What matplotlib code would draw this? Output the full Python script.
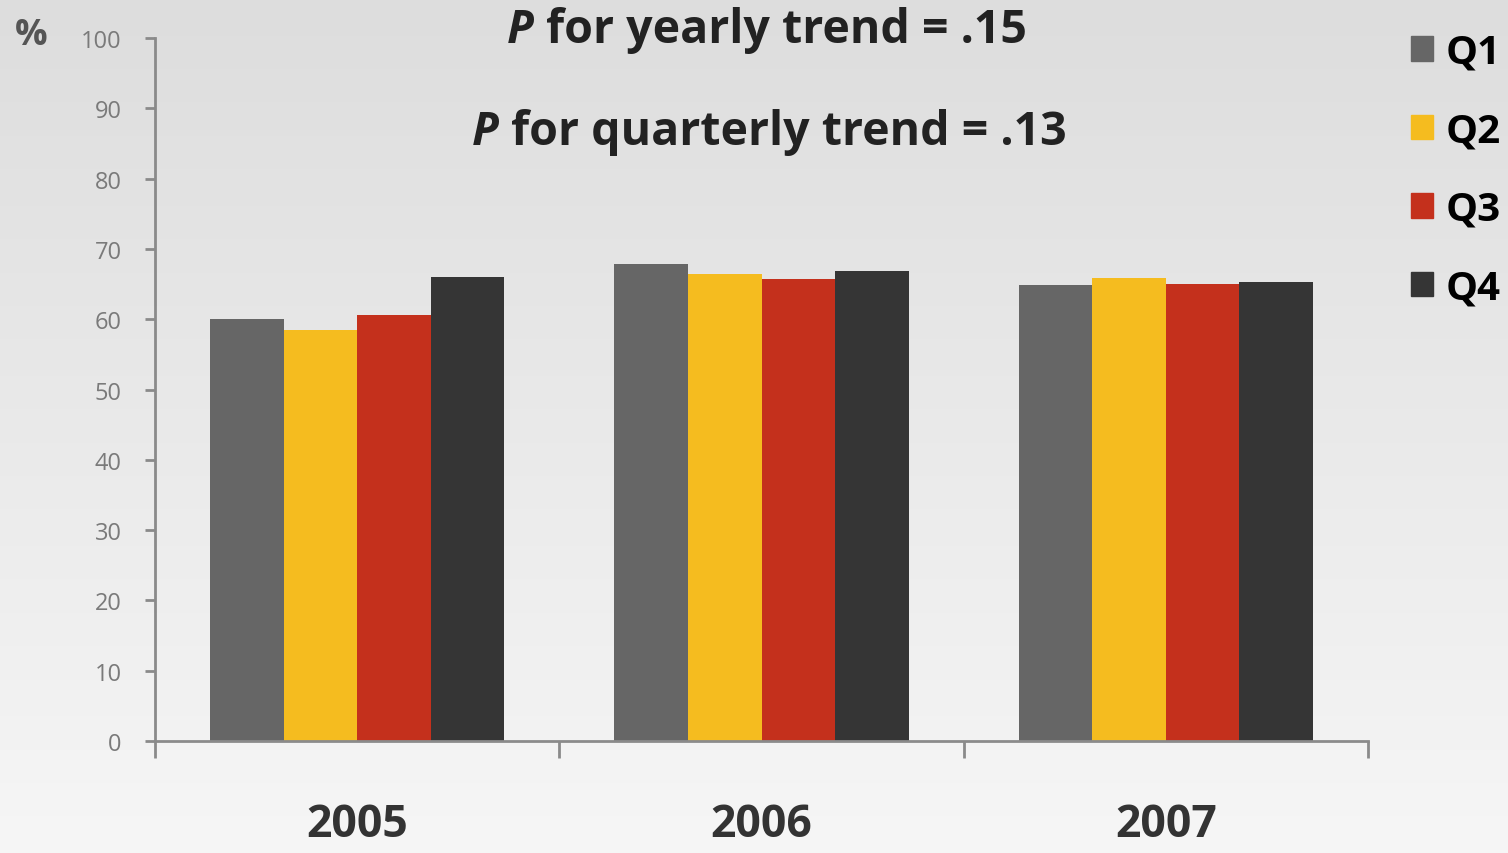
import numpy as np
import matplotlib
matplotlib.use('Agg')
import matplotlib.pyplot as plt
from matplotlib.patches import Patch

plt.rcParams['font.family'] = ['Open Sans', 'DejaVu Sans']

years = ['2005', '2006', '2007']
quarters = ['Q1', 'Q2', 'Q3', 'Q4']
q1 = [60.0, 67.9, 64.9]
q2 = [58.4, 66.4, 65.9]
q3 = [60.6, 65.7, 65.0]
q4 = [66.0, 66.8, 65.3]
colList = ['#666666', '#f5bc1f', '#c4301c', '#353535']
yticks = np.arange(0, 101, 10)

fig = plt.figure(figsize=(15.08, 8.54), dpi=100)

# soft grey background, darker at the top
bg = fig.add_axes([0, 0, 1, 1], zorder=-10)
grad = np.linspace(0, 1, 256).reshape(-1, 1)
bg.imshow(grad, aspect='auto', cmap=matplotlib.colors.LinearSegmentedColormap.from_list(
    'bg', ['#dddddd', '#f6f6f6']), extent=[0, 1, 0, 1], origin='upper')
bg.set_axis_off()

ax = fig.add_axes([0.1028, 0.1311, 0.8044, 0.8232])
ax.patch.set_alpha(0)

x = np.arange(len(years))
w = 0.182
for i, vals in enumerate([q1, q2, q3, q4]):
    ax.bar(x + (i - 1.5) * w, vals, w, color=colList[i], label=quarters[i])

ax.set_xlim(-0.5, 2.5)
ax.set_ylim(0, 100)
for s in ['top', 'right']:
    ax.spines[s].set_visible(False)
for s in ['left', 'bottom']:
    ax.spines[s].set_color('#8a8a8a')
    ax.spines[s].set_linewidth(2)

ax.set_yticks(yticks)
ax.tick_params(axis='y', direction='out', length=7, width=2, color='#8a8a8a',
               labelsize=17, labelcolor='#7a7a7a', pad=17)
ax.set_xticks(x)
ax.set_xticklabels(years, fontsize=32, fontweight='bold', color='#333333')
ax.tick_params(axis='x', length=0, pad=44)
ax.set_xticks([-0.5, 0.5, 1.5, 2.5], minor=True)
ax.tick_params(axis='x', which='minor', direction='out', length=12, width=2, color='#8a8a8a')

fig.text(0.010, 0.947, '%', fontsize=26, fontweight='bold', color='#555555', va='baseline')

# title lines with italic P
for xl, yl, txt in [(0.336, 0.950, ' for yearly trend = .15'),
                    (0.313, 0.830, ' for quarterly trend = .13')]:
    t1 = fig.text(xl, yl, 'P', fontsize=33.5, fontweight='bold', fontstyle='italic',
                  color='#222222', va='baseline')
    ax.annotate(txt, xy=(1, 0), xycoords=t1, va='bottom', ha='left',
                fontsize=33.5, fontweight='bold', color='#222222')

handles = [Patch(color=c) for c in colList]
fig.legend(handles, quarters, loc='upper right', bbox_to_anchor=(1.019, 1.003),
           frameon=False, handlelength=0.55, handleheight=0.55,
           handletextpad=0.3, labelspacing=0.98, prop={'weight': 'bold', 'size': 29})

fig.savefig('out.png', dpi=100)
